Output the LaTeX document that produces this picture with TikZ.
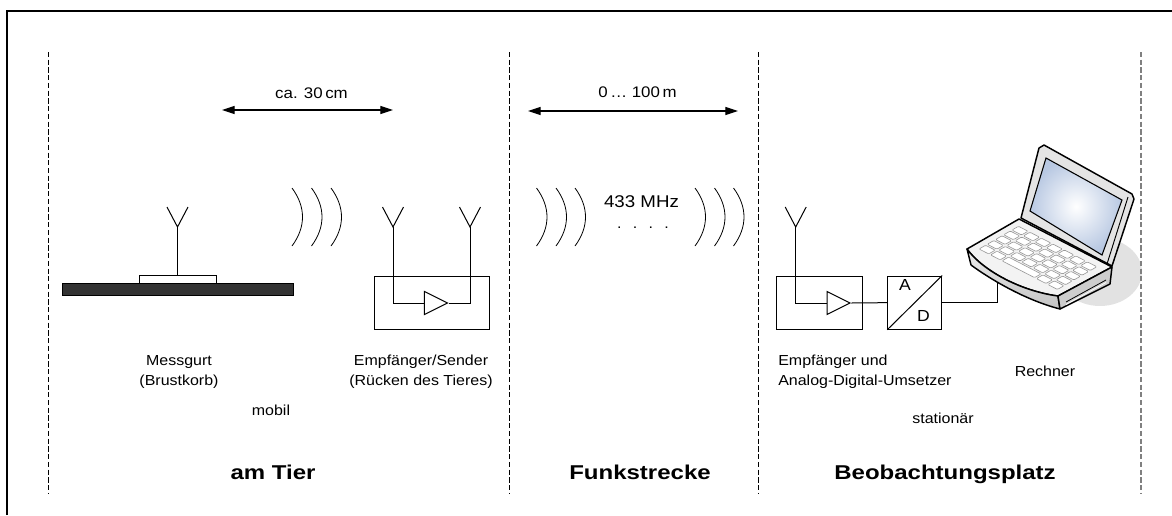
\documentclass[tikz,border=0pt]{standalone}
\usepackage{fontspec}
\setmainfont{Liberation Sans}
\newfontfamily\lblfont[FakeStretch=1.1]{Liberation Sans}
\newfontfamily\ttlfont[FakeStretch=1.2]{Liberation Sans}
\usetikzlibrary{arrows.meta,fit,shapes.geometric}

\definecolor{beltfill}{RGB}{51,51,51}
\definecolor{sepgray}{RGB}{128,128,128}
\definecolor{lidgray}{RGB}{228,228,228}
\definecolor{deckgray}{RGB}{243,243,243}
\definecolor{fronttop}{RGB}{236,236,236}
\definecolor{frontbot}{RGB}{196,196,196}
\definecolor{sidegray}{RGB}{205,205,205}
\definecolor{screenblue}{RGB}{184,200,226}
\definecolor{shadowgray}{RGB}{226,226,226}
\definecolor{keyedge}{RGB}{150,150,150}

\tikzset{
  divider/.style={line width=0.75pt, dash pattern=on 3.9pt off 1.9pt},
  dividergray/.style={sepgray, line width=1.5pt, dash pattern=on 3.9pt off 1.9pt},
  dimarrow/.style={line width=0.85pt, {Triangle[length=9.5pt,width=6pt]}-{Triangle[length=9.5pt,width=6pt]}},
  box/.style={draw, line width=0.75pt, inner sep=0pt},
  amp/.style={draw, line width=0.75pt, isosceles triangle, isosceles triangle stretches,
    minimum width=17.25pt, minimum height=17.25pt, inner sep=0pt},
  wire/.style={line width=0.75pt},
  lbl/.style={font=\lblfont\fontsize{10.9pt}{15pt}\selectfont, inner sep=0pt},
  dimlbl/.style={font=\lblfont\fontsize{11.5pt}{14pt}\selectfont, inner sep=0pt},
  freq/.style={font=\lblfont\fontsize{12.75pt}{15pt}\selectfont, inner sep=0pt},
  adlbl/.style={font=\lblfont\fontsize{12pt}{14pt}\selectfont, inner sep=0pt},
  ttl/.style={font=\ttlfont\bfseries\fontsize{15pt}{18pt}\selectfont, inner sep=0pt},
  kbkey/.style={fill=white, draw=keyedge, line width=0.45pt, rounded corners=0.8pt},
  lapline/.style={line width=1.1pt, line join=round},
  antenna/.pic={\draw[wire] (-10.5,-20) -- (0,0) -- (10.5,-20);},
  wave/.pic={\draw[line width=0.6pt] (0,-29) .. controls (14,-10) and (14,10) .. (0,29);},
}

\begin{document}
\begin{tikzpicture}[x=0.75pt,y=-0.75pt]
\useasboundingbox (0,0) rectangle (1172,515);

% outer frame (top and left edges)
\draw[line width=1.6pt] (7,515) -- (7,11) -- (1172,11);

% laptop shadow
\fill[shadowgray] (1100,272) ellipse [x radius=42, y radius=34];

% section dividers
\draw[divider] (48,52) -- (48,494);
\draw[divider] (509,52) -- (509,494);
\draw[divider] (758,52) -- (758,494);
\draw[dividergray] (1141,52) -- (1141,494);

% distance arrows
\coordinate (d1l) at (222,110);
\coordinate (d1r) at (393,110);
\draw[dimarrow] (d1l) -- (d1r);
\node[dimlbl, anchor=base] (d1) at (311.5,98.3) {ca. 30\,cm};
\coordinate (d2l) at (528,111);
\coordinate (d2r) at (738,111);
\draw[dimarrow] (d2l) -- (d2r);
\node[dimlbl, anchor=base] (d2) at (637.5,97.7) {0\,…\ 100\,m};

% measuring belt with transmitter pod
\node[box, fill=beltfill, fit={(62,283) (293,295)}] (belt) {};
\node[box, fill=white, fit={(139,275) (216,283)}] (pod) {};
\coordinate (ant0) at (177.5,227);
\pic at (ant0) {antenna};
\draw[wire] (pod.north) -- (ant0);

% radio waves
\foreach \wx in {292,311.5,331,536.5,556,575,695,714.5,733.5}
  \pic at (\wx,217) {wave};

% repeater on the animal's back
\node[box, fit={(374,276) (489,329)}] (rep) {};
\node[amp] (amp1) at (431.5,303) {};
\coordinate (ant1) at (393,227);
\coordinate (ant2) at (470,227);
\pic at (ant1) {antenna};
\pic at (ant2) {antenna};
\draw[wire] (ant1) |- (amp1.west);
\draw[wire] (amp1.east) -| (ant2);

% radio link label
\node[freq, anchor=base] (f) at (641.5,207.3) {433 MHz};
\node[lbl, anchor=base] (dots) at (643,228) {.\hspace{8.5pt}.\hspace{8.5pt}.\hspace{8.5pt}.};

% receiver and A/D converter
\node[box, fit={(776,276) (862.7,329.3)}] (rx) {};
\node[amp] (amp2) at (834.2,303) {};
\coordinate (ant3) at (795.7,227);
\pic at (ant3) {antenna};
\draw[wire] (ant3) |- (amp2.west);
\node[box, fit={(887.7,276) (941.7,329.3)}] (ad) {};
\draw[wire] (ad.south west) -- (ad.north east);
\node[adlbl] (adA) at (905,284.5) {A};
\node[adlbl] (adD) at (923.5,316) {D};
\draw[wire] (amp2.east) -- (ad.west);
\coordinate (lapport) at (997.3,282);

% laptop: keyboard deck
\filldraw[lapline, fill=deckgray] (967,249) -- (1019,219) -- (1112,267) -- (1058,296)
  .. controls (1020,291) and (982,270) .. (967,249) -- cycle;
% laptop: front face
\shadedraw[lapline, top color=fronttop, bottom color=frontbot]
  (967,249) .. controls (982,270) and (1020,291) .. (1058,296) -- (1060,309)
  .. controls (1025,300) and (990,279) .. (971,265) -- cycle;
% laptop: right side face with slot
\filldraw[lapline, fill=sidegray] (1058,296) -- (1112,267) -- (1110,284) -- (1060,309) -- cycle;
\draw[line width=0.6pt] (1066,302) -- (1106,280);
\draw[line width=0.6pt, white] (1066,304.5) -- (1106,282.5);
% laptop: keys (front row carries a wide space bar)
\foreach \r in {0,...,4}{
  \foreach \c in {0,...,6}{
    \pgfmathsetmacro\ua{0.07+\c*0.126}
    \pgfmathsetmacro\ub{(\r==0 && \c==2) ? \ua+0.357 : \ua+0.105}
    \pgfmathsetmacro\va{0.11+\r*0.158}
    \pgfmathsetmacro\vb{\va+0.125}
    \pgfmathtruncatemacro\skipkey{(\r==0 && (\c==3 || \c==4)) ? 1 : 0}
    \ifnum\skipkey=0
    \draw[kbkey] (967+\ua*91+\va*52, 249+\ua*47-\va*30)
      -- (967+\ub*91+\va*52, 249+\ub*47-\va*30)
      -- (967+\ub*91+\vb*52, 249+\ub*47-\vb*30)
      -- (967+\ua*91+\vb*52, 249+\ua*47-\vb*30) -- cycle;
    \fi
  }
}
% laptop: lid
\filldraw[lapline, fill=lidgray] (1021,218) -- (1039,148) -- (1044,145) -- (1132,194)
  -- (1134,199) -- (1112,266) -- cycle;
\draw[line width=0.7pt] (1128,197) -- (1107,264);
\shadedraw[inner color=white, outer color=screenblue, draw=black, line width=0.8pt]
  (1030,211) -- (1046,158) -- (1122,200) -- (1102,255) -- cycle;

\draw[wire] (ad.east) -| (lapport);

% labels
\node[lbl, align=center] (lbelt) at (179,372) {Messgurt\\(Brustkorb)};
\node[lbl, align=center] (lrep) at (421,372) {Empfänger/Sender\\(Rücken des Tieres)};
\node[lbl, align=left, anchor=west] (lrx) at (778,372) {Empfänger und\\Analog-Digital-Umsetzer};
\node[lbl, anchor=base] (lpc) at (1045,376) {Rechner};
\node[lbl, anchor=base] (lmob) at (271,415) {mobil};
\node[lbl, anchor=base] (lstat) at (943,423) {stationär};

% section titles
\node[ttl, anchor=base] (t1) at (273,479) {am Tier};
\node[ttl, anchor=base] (t2) at (640,479) {Funkstrecke};
\node[ttl, anchor=base] (t3) at (945,479) {Beobachtungsplatz};
\end{tikzpicture}
\end{document}
